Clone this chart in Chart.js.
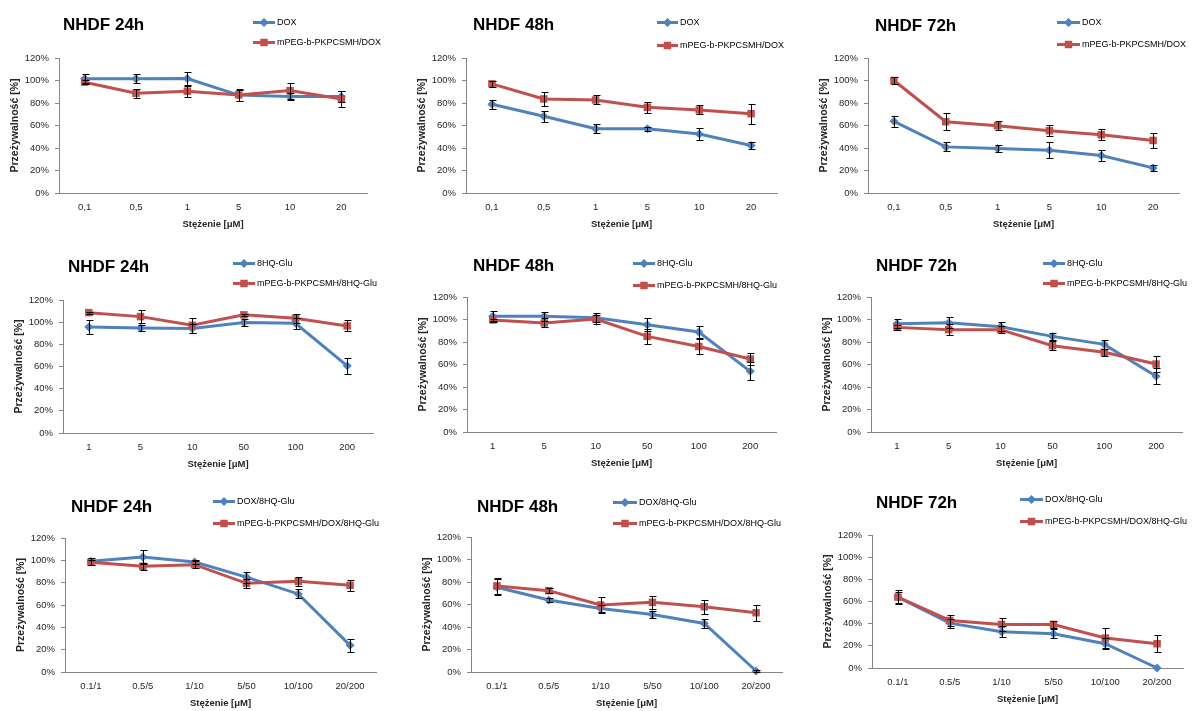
<!DOCTYPE html>
<html><head><meta charset="utf-8">
<script src="https://cdn.jsdelivr.net/npm/chart.js@4"></script>
<style>
html,body{margin:0;padding:0;background:#fff}
body{width:1195px;height:711px;position:relative;overflow:hidden}
canvas{position:absolute}
</style></head><body>
<script>
// ---------- DATA ----------
const titles = ['NHDF 24h', 'NHDF 48h', 'NHDF 72h'];
const catsDox = ['0,1', '0,5', '1', '5', '10', '20'];
const cats8hq = ['1', '5', '10', '50', '100', '200'];
const catsCombo = ['0.1/1', '0.5/5', '1/10', '5/50', '10/100', '20/200'];
const yTickLabels = ['0%', '20%', '40%', '60%', '80%', '100%', '120%'];
const xTitle = 'Stężenie [μM]';
const yTitle = 'Przeżywalność [%]';
const labelsDox = ['DOX', 'mPEG-b-PKPCSMH/DOX'];
const labels8hq = ['8HQ-Glu', 'mPEG-b-PKPCSMH/8HQ-Glu'];
const labelsCombo = ['DOX/8HQ-Glu', 'mPEG-b-PKPCSMH/DOX/8HQ-Glu'];

const dox24 = [101.5, 101.5, 101.8, 87, 85.7, 85.7];
const dox24Err = [4, 4, 6, 5, 3, 5];
const mpegDox24 = [98.5, 88.7, 90.5, 87.2, 91, 83.6];
const mpegDox24Err = [2, 4, 5, 5, 7, 7];

const dox48 = [78.9, 68.2, 57.1, 57.1, 52.4, 42.3];
const dox48Err = [4, 5, 4, 2, 5, 3];
const mpegDox48 = [97, 83.6, 82.7, 76.2, 73.8, 70.5];
const mpegDox48Err = [3, 6, 4, 5, 4, 9];

const dox72 = [63.7, 41, 39.6, 38.1, 33.3, 22.3];
const dox72Err = [5, 4, 3, 7, 5, 3];
const mpegDox72 = [100, 63.4, 59.8, 55.4, 51.8, 46.7];
const mpegDox72Err = [3, 7.5, 4, 5, 5, 6.5];

const hq24 = [95.7, 94.8, 94.2, 99.6, 99, 60.6];
const hq24Err = [6, 3, 4, 3, 5, 7];
const mpegHq24 = [108.6, 105, 97.2, 106.6, 103.5, 96.6];
const mpegHq24Err = [1, 6, 7, 1, 4, 5];

const hq48 = [102.8, 102.8, 101.6, 95.4, 88.9, 53.9];
const hq48Err = [5, 4, 4, 6, 5, 8];
const mpegHq48 = [99.6, 96.9, 100.4, 85, 76, 64.9];
const mpegHq48Err = [1, 4, 4, 7, 7, 5];

const hq72 = [96.3, 97.2, 93.6, 85, 77.9, 49.5];
const hq72Err = [4, 5, 4, 3, 4, 7];
const mpegHq72 = [93, 91, 91, 76.7, 70.8, 60.4];
const mpegHq72Err = [2, 5, 3, 4, 3, 7];

const combo24 = [99.1, 103, 98.5, 85, 69.9, 23.9];
const combo24Err = [3, 6, 2, 5, 4, 6];
const mpegCombo24 = [98.2, 94.6, 96.1, 79.4, 81.2, 77.6];
const mpegCombo24Err = [2, 3, 3, 4, 4, 5];

const combo48 = [75.3, 64, 56.5, 51.2, 43.2, 0.9];
const combo48Err = [7, 2, 3, 3, 4, 1];
const mpegCombo48 = [76.5, 72.3, 59.5, 61.9, 58, 52.7];
const mpegCombo48Err = [7, 2, 7, 6, 6, 7];

const combo72 = [64, 40.5, 32.7, 30.9, 21.9, 0];
const combo72Err = [5, 4, 5, 4, 5, 0];
const mpegCombo72 = [64, 42.9, 39.3, 39.3, 27, 21.9];
const mpegCombo72Err = [6, 5, 6, 3, 9, 7.5];

// ---------- PANELS ----------
const panels = [
  {title: titles[0], cats: catsDox, labels: labelsDox, series: [[dox24, dox24Err], [mpegDox24, mpegDox24Err]]},
  {title: titles[1], cats: catsDox, labels: labelsDox, series: [[dox48, dox48Err], [mpegDox48, mpegDox48Err]]},
  {title: titles[2], cats: catsDox, labels: labelsDox, series: [[dox72, dox72Err], [mpegDox72, mpegDox72Err]]},
  {title: titles[0], cats: cats8hq, labels: labels8hq, series: [[hq24, hq24Err], [mpegHq24, mpegHq24Err]]},
  {title: titles[1], cats: cats8hq, labels: labels8hq, series: [[hq48, hq48Err], [mpegHq48, mpegHq48Err]]},
  {title: titles[2], cats: cats8hq, labels: labels8hq, series: [[hq72, hq72Err], [mpegHq72, mpegHq72Err]]},
  {title: titles[0], cats: catsCombo, labels: labelsCombo, series: [[combo24, combo24Err], [mpegCombo24, mpegCombo24Err]]},
  {title: titles[1], cats: catsCombo, labels: labelsCombo, series: [[combo48, combo48Err], [mpegCombo48, mpegCombo48Err]]},
  {title: titles[2], cats: catsCombo, labels: labelsCombo, series: [[combo72, combo72Err], [mpegCombo72, mpegCombo72Err]]}
];

// ---------- LAYOUT (page pixels) ----------
const layout = [
  {cell:[0,0,400,240],    axis:59,  top:58,  right:367,  bottom:193, tx:63,  ty:25,  lx:[253,275],   ly:[22,42]},
  {cell:[400,0,395,240],  axis:466, top:58,  right:777,  bottom:193, tx:473, ty:25,  lx:[657,678],   ly:[22,45]},
  {cell:[795,0,400,240],  axis:868, top:58,  right:1179, bottom:193, tx:875, ty:26,  lx:[1057,1080], ly:[22,44]},
  {cell:[0,240,400,235],  axis:63,  top:300, right:373,  bottom:433, tx:68,  ty:267, lx:[233,255],   ly:[263,283]},
  {cell:[400,240,395,235],axis:467, top:297, right:776,  bottom:432, tx:473, ty:266, lx:[633,655],   ly:[263,285]},
  {cell:[795,240,400,235],axis:871, top:297, right:1182, bottom:432, tx:876, ty:266, lx:[1043,1065], ly:[263,283]},
  {cell:[0,475,400,236],  axis:65,  top:538, right:376,  bottom:672, tx:71,  ty:507, lx:[213,235],   ly:[501,523]},
  {cell:[400,475,395,236],axis:471, top:537, right:782,  bottom:672, tx:477, ty:507, lx:[613,637],   ly:[502,523]},
  {cell:[795,475,400,236],axis:872, top:535, right:1183, bottom:668, tx:876, ty:503, lx:[1020,1043], ly:[499,521]}
];

const FONT = "'Liberation Sans', Arial, 'DejaVu Sans', sans-serif";
const COLORS = ['#4F81BD', '#C0504D'];
const STYLES = ['rectRot', 'rect'];
const RADII = [4.5, 5.3];
const AXIS = '#868686';
const TXT = '#262626';

function marker(ctx, style, x, y, r, color) {
  ctx.fillStyle = color;
  ctx.beginPath();
  if (style === 'rectRot') {
    ctx.moveTo(x, y - r); ctx.lineTo(x + r, y); ctx.lineTo(x, y + r); ctx.lineTo(x - r, y);
  } else {
    const h = r * Math.SQRT1_2;
    ctx.rect(x - h, y - h, 2 * h, 2 * h);
  }
  ctx.closePath();
  ctx.fill();
}

const errorBars = {
  id: 'errorBars',
  afterDatasetsDraw(chart) {
    const ctx = chart.ctx, ys = chart.scales.y;
    ctx.save();
    ctx.strokeStyle = '#000';
    ctx.lineWidth = 1;
    chart.data.datasets.forEach((ds, i) => {
      const meta = chart.getDatasetMeta(i);
      meta.data.forEach((pt, j) => {
        const e = ds.errors[j];
        if (!e) return;
        const v = ds.data[j];
        const y1 = Math.round(ys.getPixelForValue(v + e)) + 0.5;
        const y2 = Math.round(ys.getPixelForValue(v - e)) + 0.5;
        const x = Math.round(pt.x) + 0.5;
        ctx.beginPath();
        ctx.moveTo(x, y1); ctx.lineTo(x, y2);
        ctx.moveTo(x - 3, y1); ctx.lineTo(x + 4, y1);
        ctx.moveTo(x - 3, y2); ctx.lineTo(x + 4, y2);
        ctx.stroke();
      });
    });
    ctx.restore();
  }
};

panels.forEach((p, k) => {
  const L = layout[k];
  const [cx, cy, cw, ch] = L.cell;
  const cv = document.createElement('canvas');
  cv.width = cw; cv.height = ch;
  cv.style.left = cx + 'px'; cv.style.top = cy + 'px';
  cv.style.width = cw + 'px'; cv.style.height = ch + 'px';
  document.body.appendChild(cv);
  const YW = 50, XH = 40;

  const header = {
    id: 'header' + k,
    afterDraw(chart) {
      const ctx = chart.ctx;
      ctx.save();
      ctx.textBaseline = 'middle';
      ctx.textAlign = 'left';
      ctx.fillStyle = '#000';
      ctx.font = 'bold 17px ' + FONT;
      ctx.fillText(p.title, L.tx - cx, L.ty - cy);
      chart.data.datasets.forEach((ds, i) => {
        const y = L.ly[i] - cy + 0.5;
        const x1 = L.lx[0] - cx, x2 = L.lx[1] - cx;
        ctx.strokeStyle = ds.borderColor;
        ctx.lineWidth = 3;
        ctx.beginPath(); ctx.moveTo(x1, y); ctx.lineTo(x2, y); ctx.stroke();
        marker(ctx, ds.pointStyle, (x1 + x2) / 2, y, ds.pointRadius, ds.borderColor);
        ctx.fillStyle = '#000';
        ctx.font = '9px ' + FONT;
        ctx.fillText(ds.label, x2 + 2, y);
      });
      ctx.restore();
    }
  };

  new Chart(cv, {
    type: 'line',
    data: {
      labels: p.cats,
      datasets: p.series.map((s, i) => ({
        label: p.labels[i],
        data: s[0],
        errors: s[1],
        borderColor: COLORS[i],
        backgroundColor: COLORS[i],
        borderWidth: 3,
        pointStyle: STYLES[i],
        pointRadius: RADII[i],
        pointBorderWidth: 0,
        pointBackgroundColor: COLORS[i],
        pointBorderColor: COLORS[i],
        tension: 0,
        fill: false,
        order: i === 0 ? 1 : 0,
        clip: false
      }))
    },
    options: {
      responsive: false,
      animation: false,
      devicePixelRatio: 1,
      events: [],
      layout: {
        padding: {
          left: L.axis - cx - YW,
          top: L.top - cy,
          right: cx + cw - L.right,
          bottom: cy + ch - L.bottom - XH
        }
      },
      plugins: {legend: {display: false}, tooltip: {enabled: false}, title: {display: false}},
      scales: {
        x: {
          type: 'category',
          offset: true,
          grid: {display: true, drawOnChartArea: false, drawTicks: false, offset: true, color: AXIS},
          border: {display: true, color: AXIS, width: 1},
          ticks: {padding: 9, color: TXT, font: {family: FONT, size: 9.5}, maxRotation: 0, autoSkip: false},
          title: {display: true, text: xTitle, color: TXT, font: {family: FONT, size: 9.5, weight: 'bold'}, padding: {top: 0, bottom: 3}},
          afterFit: s => { s.height = XH; }
        },
        y: {
          min: 0, max: 120,
          ticks: {stepSize: 20, padding: 6, color: TXT, font: {family: FONT, size: 9.5},
                  callback: (v, i) => yTickLabels[i]},
          grid: {display: true, drawOnChartArea: false, drawTicks: true, tickLength: 4, color: AXIS},
          border: {display: true, color: AXIS, width: 1},
          title: {display: true, text: yTitle, color: TXT, font: {family: FONT, size: 10.5, weight: 'bold'}, padding: {top: 0, bottom: 0}},
          afterFit: s => { s.width = YW; }
        }
      }
    },
    plugins: [errorBars, header]
  });
});
</script>
</body></html>
